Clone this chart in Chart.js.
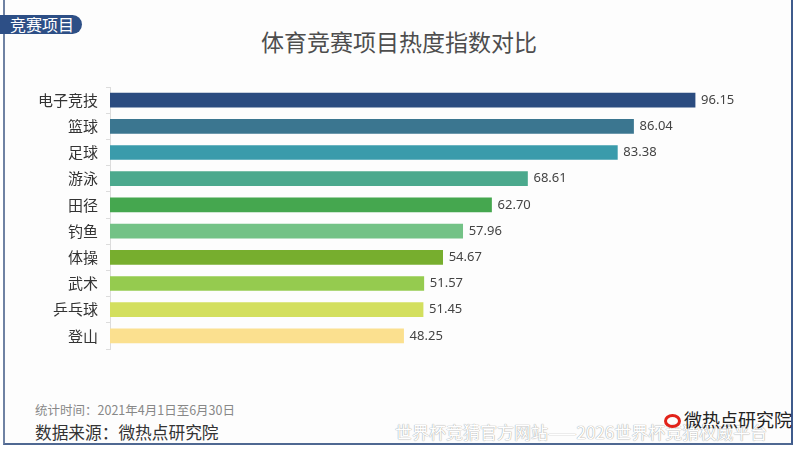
<html>
  <head>
    <meta charset="utf-8">
    <title>体育竞赛项目热度指数对比</title>
    <script src="https://cdn.jsdelivr.net/npm/chart.js@4.4.0/dist/chart.umd.min.js"></script>
    <style>
      body { margin: 0; width: 798px; height: 450px; position: relative; background: #fff; overflow: hidden;
             font-family: "Noto Sans CJK SC", "Noto Sans", sans-serif; }
      .frame { position: absolute; left: 3px; top: 0; width: 790px; height: 445px;
               border-left: 2px solid #6f82a3; border-right: 2px solid #3f5b8c; border-bottom: 2px solid #4f6892;
               background: #fdfdfd; box-sizing: border-box; }
      .badge { position: absolute; left: 0; top: 15px; width: 82px; height: 19px; background: #2d4f86;
               border-radius: 0 10px 10px 0; color: #fff; font-size: 16px; line-height: 19px; padding-left: 10px;
               box-sizing: border-box; }
      .title { position: absolute; left: 0; width: 798px; top: 25px; text-align: center; font-size: 23px;
               color: #4d4d4d; line-height: 32px; }
      .note1 { position: absolute; left: 35px; top: 401px; font-size: 12.5px; color: #888; line-height: 18px; }
      .note2 { position: absolute; left: 35px; top: 421px; font-size: 16.7px; color: #333; line-height: 22px; }
      .logo { position: absolute; left: 664px; top: 407px; font-size: 18px; color: #222; line-height: 24px; }
      .logo i { display: inline-block; width: 17px; height: 14px; border-radius: 50%; border: 3px solid #e2231a;
                box-sizing: border-box; margin-right: 3px; vertical-align: -1px; }
      .mark { position: absolute; left: 395px; top: 421px; font-size: 17px; color: #fff; line-height: 22px;
              text-shadow: 0 0 1px #999, 0 0 1px #bbb; }
      .wrap { position: absolute; left: 0; top: 70px; width: 798px; height: 296px; }
    </style>
  </head>
  <body>
    <div class="frame"></div>
    <div class="badge">竞赛项目</div>
    <div class="title">体育竞赛项目热度指数对比</div>
    <div class="wrap"><canvas id="bars"></canvas></div>
    <div class="note1">统计时间：2021年4月1日至6月30日</div>
    <div class="note2">数据来源：微热点研究院</div>
    <div class="mark">世界杯竞猜官方网站——2026世界杯竞猜权威平台</div>
    <div class="logo"><i></i>微热点研究院</div>
    <script>
      var sports = ['电子竞技', '篮球', '足球', '游泳', '田径', '钓鱼', '体操', '武术', '乒乓球', '登山'];
      var heat = [96.15, 86.04, 83.38, 68.61, 62.70, 57.96, 54.67, 51.57, 51.45, 48.25];
      var barColors = ['#2b4c80', '#3b7690', '#3a9bab', '#4ba98d', '#45a74f', '#73c286',
                       '#77ae2e', '#95cb4f', '#d3df5e', '#fbe08f'];

      // value labels at the end of each bar
      var valueLabels = {
        id: 'valueLabels',
        afterDatasetsDraw: function(chart) {
          var ctx = chart.ctx;
          var meta = chart.getDatasetMeta(0);
          ctx.save();
          ctx.font = '13px "Noto Sans", sans-serif';
          ctx.fillStyle = '#444';
          ctx.textBaseline = 'middle';
          meta.data.forEach(function(bar, i) {
            ctx.fillText(heat[i].toFixed(2), bar.x + 6, bar.y);
          });
          ctx.restore();
        }
      };

      new Chart('bars', {
        type: 'bar',
        data: {
          labels: sports,
          datasets: [{
            data: heat,
            backgroundColor: barColors,
            barThickness: 14,
            borderWidth: 0
          }]
        },
        plugins: [valueLabels],
        options: {
          indexAxis: 'y',
          responsive: true,
          maintainAspectRatio: false,
          animation: false,
          layout: { padding: { left: 0, right: 79.5, top: 0, bottom: 0 } },
          plugins: {
            legend: { display: false },
            tooltip: { enabled: false }
          },
          scales: {
            x: { display: false, min: 0, max: 100 },
            y: {
              afterFit: function(scale) { scale.width = 110; },
              grid: { drawOnChartArea: false, color: '#dcdcdc', tickLength: 4, offset: true },
              border: { color: '#dcdcdc' },
              ticks: { color: '#333', padding: 8, font: { family: '"Noto Sans CJK SC"', size: 15 } }
            }
          }
        }
      });
    </script>
  </body>
</html>
